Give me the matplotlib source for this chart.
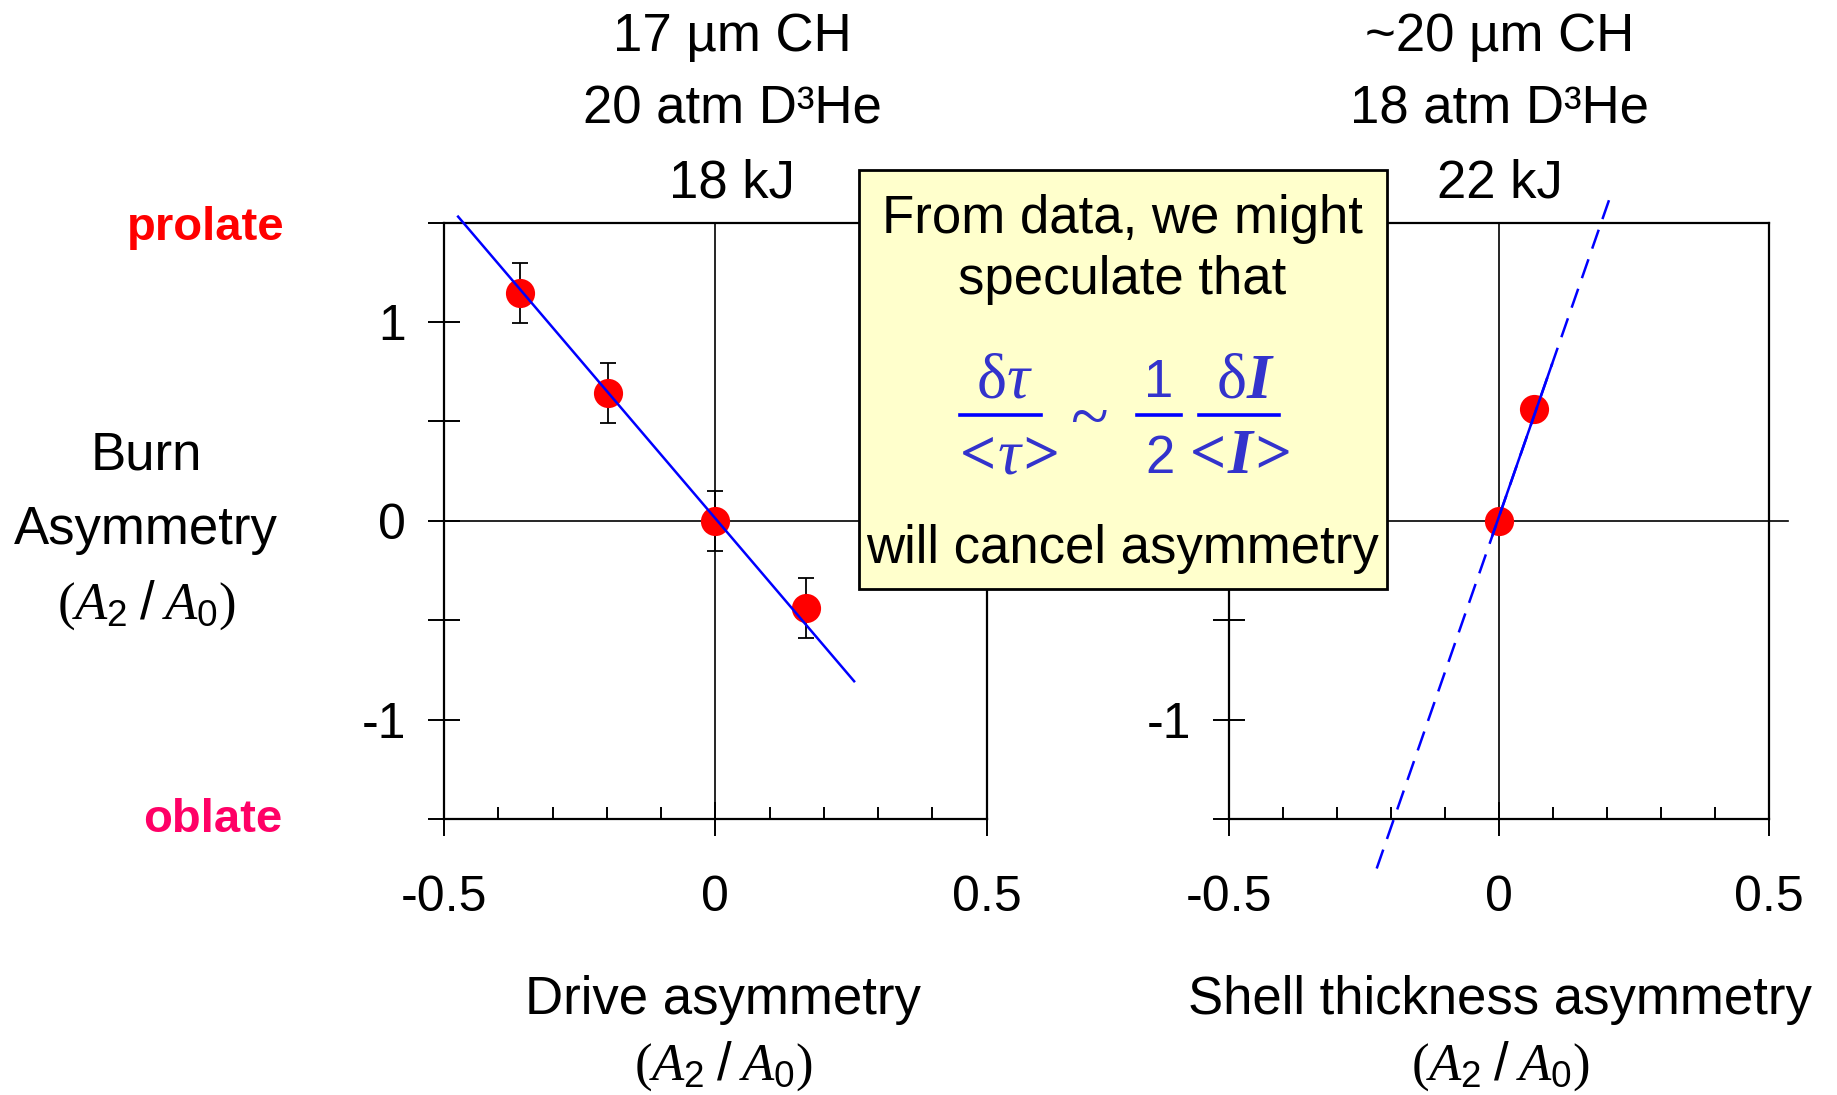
import numpy as np
import matplotlib
matplotlib.use("Agg")
import matplotlib.pyplot as plt
from matplotlib.patches import Rectangle
from matplotlib.lines import Line2D

plt.rcParams['font.family'] = ['Liberation Sans', 'DejaVu Sans']
plt.rcParams['axes.unicode_minus'] = False
plt.rcParams['mathtext.fontset'] = 'custom'
plt.rcParams['mathtext.rm'] = 'Liberation Serif'
plt.rcParams['mathtext.it'] = 'Liberation Serif:italic'
plt.rcParams['mathtext.bf'] = 'Liberation Serif:bold:italic'
plt.rcParams['mathtext.sf'] = 'Liberation Sans'

# --------------------------------------------------------------
# Data
# --------------------------------------------------------------
drive_x = [-0.36, -0.197, 0.0, 0.168]
drive_y = [1.147, 0.643, 0.0, -0.439]
drive_err = [0.15, 0.15, 0.15, 0.15]
drive_fit_x = [-0.474, 0.256]
drive_fit_y = [1.53, -0.807]

shell_x = [0.0, 0.065]
shell_y = [0.0, 0.563]
shell_fit_x = [-0.2265, 0.204]
shell_fit_y = [-1.749, 1.615]
shell_solid_x = [-0.012, 0.098]
shell_solid_y = [-0.072, 0.787]

title_left = ["17 µm CH", "20 atm D³He", "18 kJ"]
title_right = ["~20 µm CH", "18 atm D³He", "22 kJ"]
ylabel_lines = ["Burn", "Asymmetry", r"$(A_{\mathsf{2}}\;\mathsf{/}\;A_{\mathsf{0}})$"]
box_lines = ["From data, we might", "speculate that", "will cancel asymmetry"]

yticks = [-1.5, -1.0, -0.5, 0.0, 0.5, 1.0, 1.5]
ytick_labels = ["", "-1", "", "0", "", "1", ""]
xticks = [-0.5, 0.0, 0.5]
xtick_labels = ["-0.5", "0", "0.5"]
xminor = [-0.4, -0.3, -0.2, -0.1, 0.1, 0.2, 0.3, 0.4]

W, H = 1837, 1095
fig = plt.figure(figsize=(W / 100, H / 100), dpi=100)
fig.patch.set_facecolor('white')

ax1 = fig.add_axes([444 / W, 1 - 819 / H, (986.5 - 444) / W, (819 - 222.6) / H])
ax2 = fig.add_axes([1229 / W, 1 - 819 / H, (1769 - 1229) / W, (819 - 222.6) / H])

for ax in (ax1, ax2):
    ax.set_xlim(-0.5, 0.5)
    ax.set_ylim(-1.5, 1.5)
    for s in ax.spines.values():
        s.set_linewidth(1.6)
    ax.set_yticks(yticks)
    ax.set_yticklabels(ytick_labels)
    ax.set_xticks(xticks)
    ax.set_xticklabels(xtick_labels)
    ax.set_xticks(xminor, minor=True)
    ax.tick_params(axis='y', which='major', direction='inout', length=23, width=1.4,
                   labelsize=36, pad=16)
    ax.tick_params(axis='x', which='major', direction='inout', length=24, width=1.4,
                   labelsize=36, pad=28)
    ax.tick_params(axis='x', which='minor', direction='in', length=9, width=1.4)
    ax.axvline(0, color='black', lw=1.2, zorder=1)

ax1.axhline(0, color='black', lw=1.2, zorder=1)
ax2.axhline(0, xmin=0, xmax=1.035, color='black', lw=1.2, zorder=1, clip_on=False)

# --------------------------------------------------------------
# Left panel: drive asymmetry
# --------------------------------------------------------------
ax1.plot(drive_fit_x, drive_fit_y, color='#0000FF', lw=1.8, zorder=4, clip_on=False)
ax1.errorbar(drive_x, drive_y, yerr=drive_err, fmt='none', ecolor='black',
             elinewidth=1.3, capsize=6, capthick=1.3, zorder=2)
ax1.plot(drive_x, drive_y, 'o', color='#FF0000', ms=21, mec='none', zorder=3)

# --------------------------------------------------------------
# Right panel: shell thickness asymmetry
# --------------------------------------------------------------
ax2.plot(shell_fit_x, shell_fit_y, color='#0000FF', lw=1.8, ls=(0, (8, 4.5)),
         zorder=4, clip_on=False)
ax2.plot(shell_solid_x, shell_solid_y, color='#0000FF', lw=1.8, zorder=4)
ax2.plot(shell_x, shell_y, 'o', color='#FF0000', ms=21, mec='none', zorder=3)

# --------------------------------------------------------------
# Texts
# --------------------------------------------------------------
for i, (tl, tr) in enumerate(zip(title_left, title_right)):
    yy = 1 - (37 + 73 * i) / H
    fig.text(732 / W, yy, tl, ha='center', va='center', fontsize=38)
    fig.text(1500 / W, yy, tr, ha='center', va='center', fontsize=38)

for i, t in enumerate(ylabel_lines):
    fig.text(146 / W, 1 - (455 + 75 * i) / H, t, ha='center', va='center', fontsize=38)

fig.text(206 / W, 1 - 228 / H, "prolate", ha='center', va='center', fontsize=34,
         fontweight='bold', color='#FF0000')
fig.text(213 / W, 1 - 820 / H, "oblate", ha='center', va='center', fontsize=34,
         fontweight='bold', color='#FF0066')

fig.text(723 / W, 1 - 1000 / H, "Drive asymmetry", ha='center', va='center', fontsize=38)
fig.text(723 / W, 1 - 1066 / H, ylabel_lines[2], ha='center', va='center', fontsize=38)
fig.text(1500 / W, 1 - 1000 / H, "Shell thickness asymmetry", ha='center', va='center',
         fontsize=38)
fig.text(1500 / W, 1 - 1066 / H, ylabel_lines[2], ha='center', va='center', fontsize=38)

# --------------------------------------------------------------
# Annotation box
# --------------------------------------------------------------
box = Rectangle((859 / W, 1 - 589 / H), (1387 - 859) / W, (589 - 170) / H,
                transform=fig.transFigure, facecolor='#FFFFCC', edgecolor='black',
                lw=2, zorder=5)
fig.add_artist(box)

for t, yy in zip(box_lines, [219, 280, 549]):
    fig.text(1122 / W, 1 - yy / H, t, ha='center', va='center', fontsize=38, zorder=6)

fc = '#3333CC'
num_y = 1 - 397 / H
den_y = 1 - 473 / H
fig.text(1004 / W, num_y, r"$\mathrm{\delta}\tau$", ha='center', va='baseline',
         fontsize=46, color=fc, zorder=6)
fig.text(1004 / W, den_y, r"$\mathbf{<}\!\tau\!\mathbf{>}$", ha='center',
         va='baseline', fontsize=46, color=fc, zorder=6)
fig.text(1089 / W, 1 - 422 / H, "~", ha='center', va='center', fontsize=50, color=fc,
         family='Liberation Serif', zorder=6)
fig.text(1159 / W, num_y, "1", ha='center', va='baseline', fontsize=38, color=fc,
         zorder=6)
fig.text(1160 / W, den_y, "2", ha='center', va='baseline', fontsize=38, color=fc,
         zorder=6)
fig.text(1245 / W, num_y, r"$\mathrm{\delta}\mathbf{I}$", ha='center', va='baseline',
         fontsize=46, color=fc, zorder=6)
fig.text(1235 / W, den_y, r"$\mathbf{<}\!\mathbf{I}\!\mathbf{>}$", ha='center',
         va='baseline', fontsize=46, color=fc, zorder=6)

for x0, x1 in [(960, 1041), (1137, 1181), (1199, 1279)]:
    fig.add_artist(Line2D([x0 / W, x1 / W], [1 - 415 / H, 1 - 415 / H],
                          transform=fig.transFigure, color='#0000FF', lw=2.6, zorder=6))

fig.savefig('out.png', dpi=100)
